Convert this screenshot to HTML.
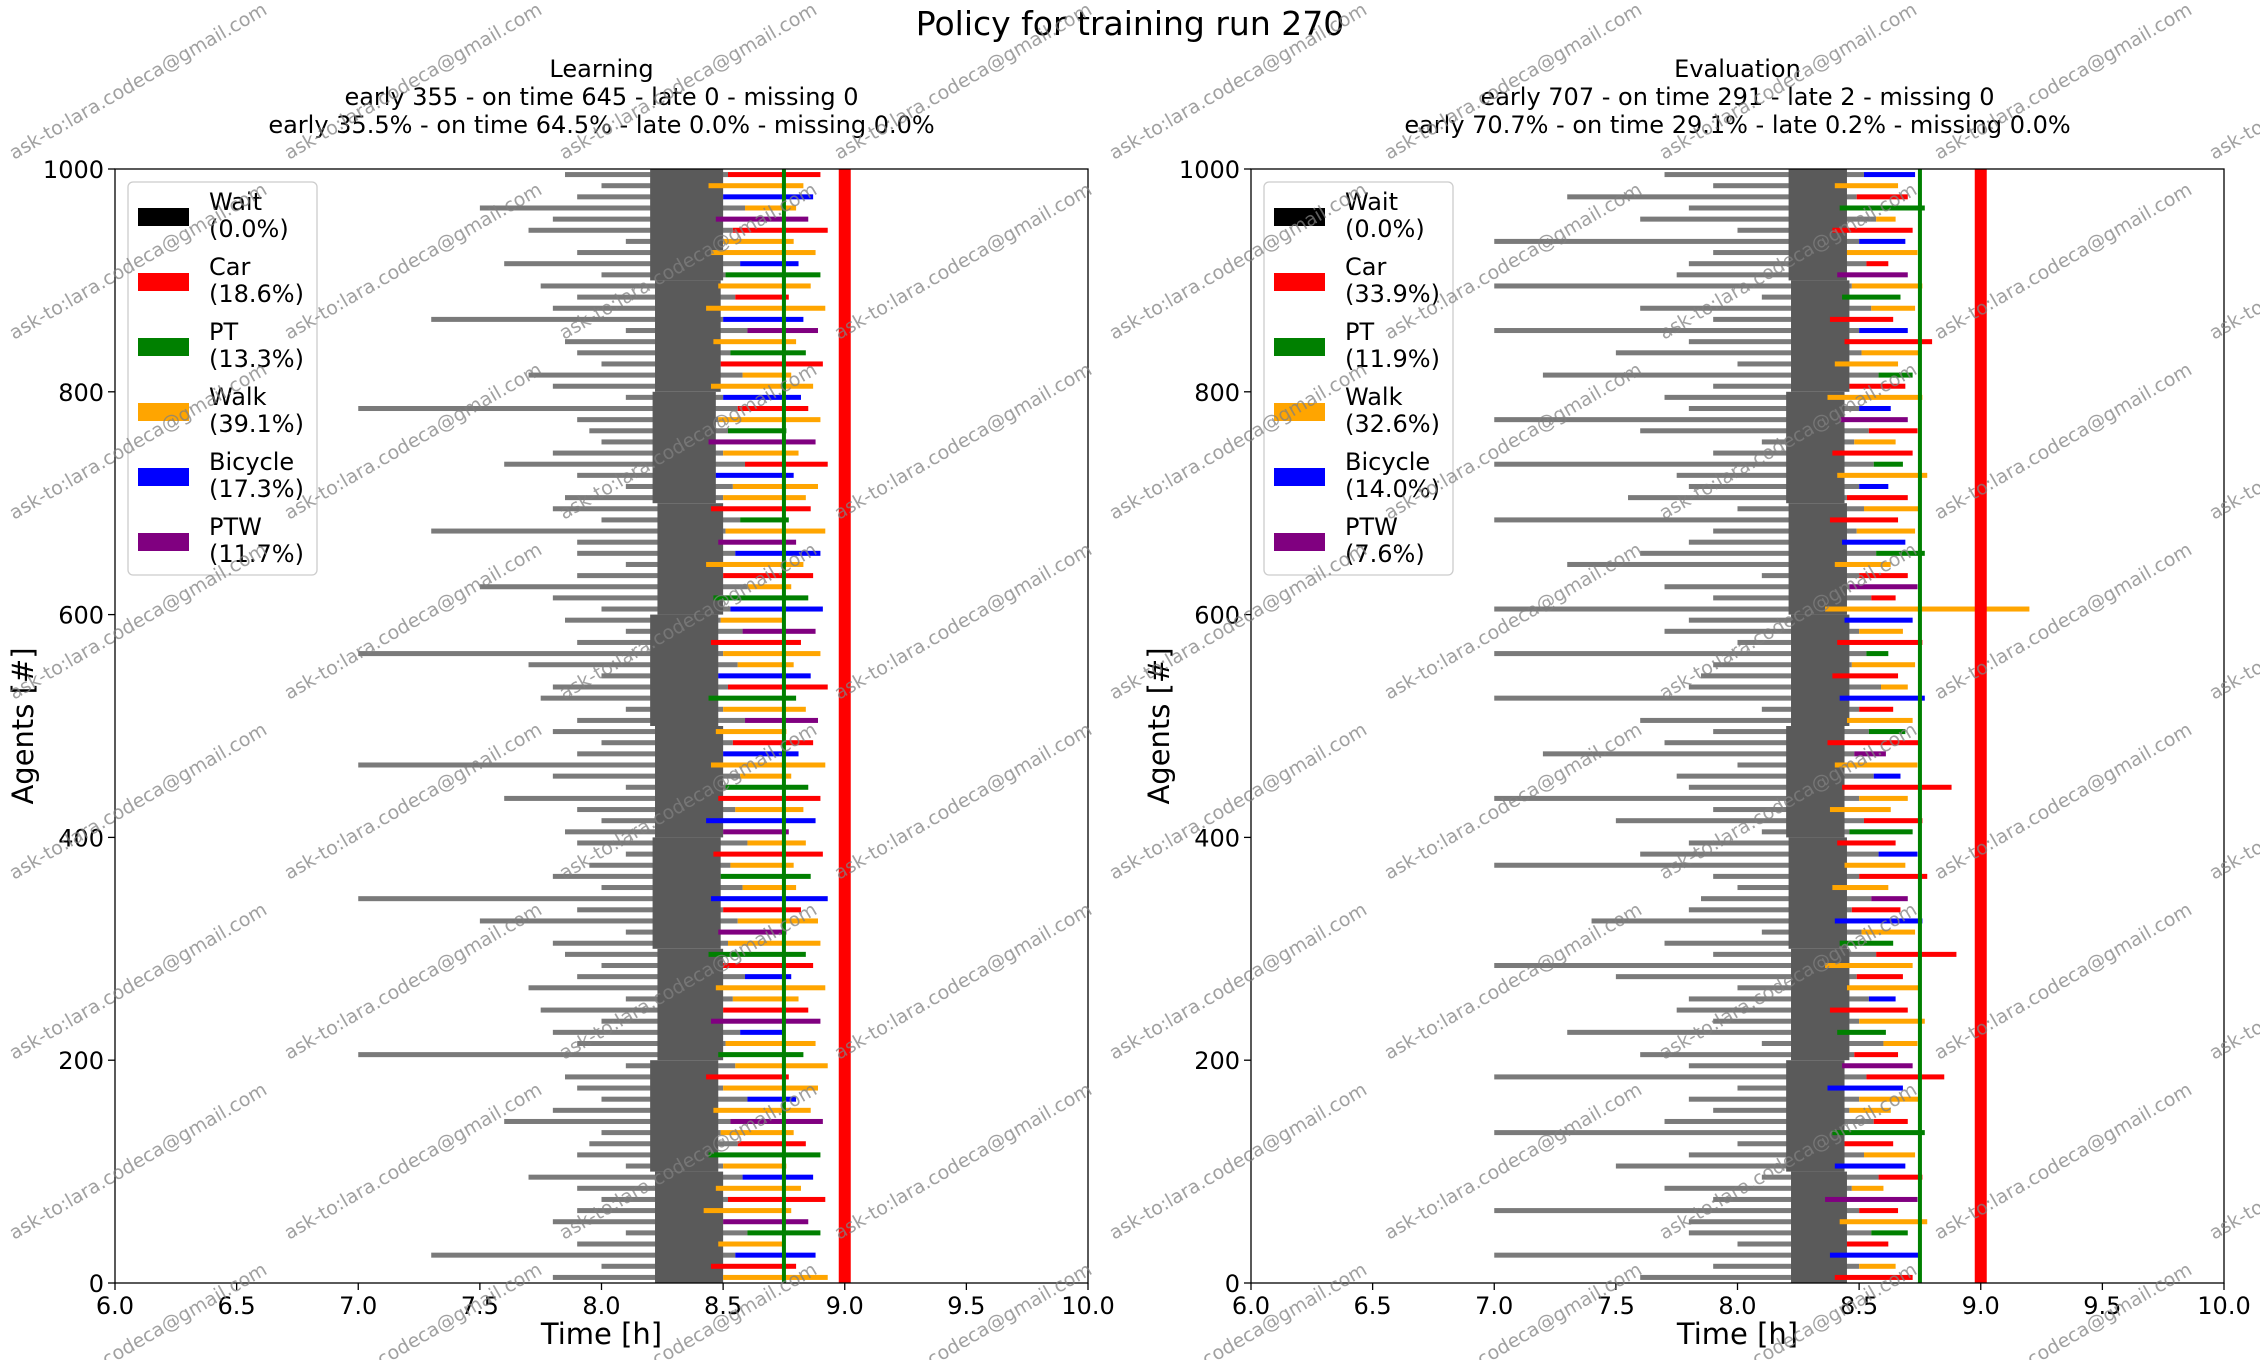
<!DOCTYPE html>
<html><head><meta charset="utf-8">
<style>
html,body{margin:0;padding:0;background:#fff;}
svg{display:block;font-family:"DejaVu Sans","Liberation Sans",sans-serif;}
</style></head>
<body>
<svg id="chart" width="2260" height="1360" viewBox="0 0 2260 1360" xmlns="http://www.w3.org/2000/svg">
<text x="1130" y="35" font-size="33" text-anchor="middle">Policy for training run 270</text>
<g id="panels"></g>
<g id="watermarks"></g>
</svg>
<script>
// ---- data ----
const modeNames = ["Wait","Car","PT","Walk","Bicycle","PTW"];
const modeColors = {Wait:"#000000",Car:"#ff0000",PT:"#008000",Walk:"#ffa500",Bicycle:"#0000ff",PTW:"#800080"};
const learnShares = ["0.0%","18.6%","13.3%","39.1%","17.3%","11.7%"];
const evalShares = ["0.0%","33.9%","11.9%","32.6%","14.0%","7.6%"];
const xTicks = [6.0,6.5,7.0,7.5,8.0,8.5,9.0,9.5,10.0];
const yTicks = [0,200,400,600,800,1000];
const learnStart = [7.8,8.0,7.3,7.9,8.1,7.8,7.9,8.0,7.9,7.7,8.1,7.9,7.95,8.0,7.6,7.8,8.0,7.9,7.85,8.1,7.0,7.9,7.8,8.0,7.75,8.1,7.7,7.9,8.0,7.85,7.8,8.1,7.5,7.9,7.0,8.0,7.8,7.95,8.1,7.9,7.85,8.0,7.9,7.6,8.1,7.8,7.0,7.9,8.0,7.8,7.9,8.1,7.75,7.8,8.0,7.7,7.0,7.9,8.1,7.85,8.0,7.8,7.5,7.9,8.1,7.9,7.9,7.3,8.0,7.8,7.85,8.1,7.9,7.6,7.8,8.0,7.95,7.9,7.0,8.1,7.8,7.7,8.0,7.9,7.85,8.1,7.3,7.8,7.9,7.75,8.0,7.6,7.9,8.1,7.7,7.8,7.5,7.9,8.0,7.85];
const learnModeStart = [8.5,8.45,8.55,8.48,8.6,8.5,8.42,8.52,8.47,8.58,8.5,8.44,8.56,8.49,8.53,8.46,8.6,8.5,8.43,8.55,8.48,8.51,8.57,8.45,8.5,8.54,8.47,8.59,8.5,8.44,8.52,8.48,8.56,8.5,8.45,8.58,8.49,8.53,8.46,8.6,8.5,8.43,8.55,8.48,8.51,8.57,8.45,8.5,8.54,8.47,8.59,8.5,8.44,8.52,8.48,8.56,8.5,8.45,8.58,8.49,8.53,8.46,8.6,8.5,8.43,8.55,8.48,8.51,8.57,8.45,8.5,8.54,8.47,8.59,8.5,8.44,8.52,8.48,8.56,8.5,8.45,8.58,8.49,8.53,8.46,8.6,8.5,8.43,8.55,8.48,8.51,8.57,8.45,8.5,8.54,8.47,8.59,8.5,8.44,8.52];
const learnEnd = [8.93,8.8,8.88,8.75,8.9,8.85,8.78,8.92,8.82,8.87,8.76,8.9,8.84,8.79,8.91,8.86,8.8,8.89,8.77,8.93,8.83,8.88,8.75,8.9,8.85,8.81,8.92,8.78,8.87,8.84,8.9,8.76,8.89,8.82,8.93,8.8,8.86,8.79,8.91,8.84,8.77,8.88,8.83,8.9,8.85,8.78,8.92,8.81,8.87,8.76,8.89,8.84,8.8,8.93,8.86,8.79,8.9,8.82,8.88,8.75,8.91,8.85,8.78,8.87,8.83,8.9,8.8,8.92,8.77,8.86,8.84,8.89,8.79,8.93,8.81,8.88,8.76,8.9,8.85,8.82,8.87,8.78,8.91,8.84,8.8,8.89,8.83,8.92,8.77,8.86,8.9,8.81,8.88,8.79,8.93,8.85,8.8,8.87,8.83,8.9];
const learnModes = "WCBWPMWCWBWPCWMWBWCWPWBMCWWBCPWMWCBWPWCWMBWCPWWBCWMWPCBWWCMWBPWCWBMWPCWWBCWMPWCBWWCPWMBWCWPBWWCMWB";
const evalStart = [7.6,7.9,7.0,8.0,7.8,7.8,7.0,7.9,7.7,8.1,7.5,7.8,8.0,7.0,7.7,7.9,7.8,8.0,7.0,7.8,7.6,8.1,7.3,7.9,7.75,7.8,8.0,7.5,7.0,7.9,7.7,8.1,7.4,7.8,7.85,8.0,7.9,7.0,7.6,7.8,8.1,7.5,7.9,7.0,7.8,7.75,8.0,7.2,7.7,7.9,7.6,8.1,7.0,7.8,7.85,7.9,7.0,8.0,7.7,7.8,7.0,7.9,7.7,8.1,7.3,7.6,7.8,7.9,7.0,8.0,7.55,7.8,7.75,7.0,7.9,8.1,7.6,7.0,7.8,7.7,7.9,7.2,8.0,7.5,7.8,7.0,7.9,7.6,8.1,7.0,7.75,7.8,7.9,7.0,8.0,7.6,7.8,7.3,7.9,7.7];
const evalModeStart = [8.4,8.5,8.38,8.45,8.55,8.42,8.5,8.36,8.47,8.58,8.4,8.52,8.44,8.39,8.56,8.46,8.5,8.37,8.53,8.43,8.48,8.6,8.41,8.5,8.38,8.54,8.45,8.49,8.36,8.57,8.42,8.51,8.4,8.47,8.55,8.39,8.5,8.44,8.58,8.41,8.46,8.52,8.38,8.5,8.43,8.56,8.4,8.48,8.37,8.54,8.45,8.5,8.42,8.59,8.39,8.47,8.53,8.41,8.5,8.44,8.36,8.55,8.46,8.5,8.4,8.57,8.43,8.49,8.38,8.52,8.45,8.5,8.41,8.56,8.39,8.48,8.54,8.42,8.5,8.37,8.46,8.58,8.4,8.51,8.44,8.5,8.38,8.55,8.43,8.47,8.41,8.53,8.45,8.5,8.39,8.57,8.42,8.49,8.4,8.52];
const evalEnd = [8.72,8.65,8.75,8.62,8.7,8.78,8.66,8.74,8.6,8.76,8.69,8.73,8.64,8.77,8.7,8.63,8.75,8.68,8.85,8.72,8.66,8.74,8.61,8.77,8.7,8.65,8.75,8.68,8.72,8.9,8.64,8.73,8.76,8.67,8.7,8.62,8.78,8.69,8.74,8.65,8.72,8.76,8.63,8.7,8.88,8.67,8.74,8.61,8.75,8.69,8.72,8.64,8.77,8.7,8.66,8.73,8.62,8.76,8.68,8.72,9.2,8.65,8.74,8.7,8.63,8.77,8.69,8.73,8.66,8.75,8.7,8.62,8.78,8.68,8.72,8.65,8.74,8.7,8.63,8.76,8.69,8.72,8.66,8.75,8.8,8.7,8.64,8.73,8.67,8.76,8.7,8.62,8.74,8.69,8.72,8.65,8.77,8.7,8.66,8.73];
const evalModes = "CWBCPWCMWCBWCPCWWBCMCWPWCBWCWCPWBCMWCWBCPCWWCBWMCPWCBWCWPCWBWCMCWPBWCWCBWPCWCMBWCPWWCBCWPWMCWBCWP";
const coreBuckets = [0,100,200,300,400,500,600,700,800,900,1000];
const learnCoreL = [8.22,8.2,8.23,8.21,8.22,8.2,8.23,8.21,8.22,8.2,8.22];
const learnCoreR = [8.5,8.48,8.5,8.49,8.5,8.48,8.5,8.47,8.49,8.5,8.5];
const evalCoreL = [8.22,8.2,8.22,8.21,8.2,8.22,8.21,8.2,8.22,8.21,8.22];
const evalCoreR = [8.45,8.44,8.46,8.45,8.44,8.46,8.45,8.44,8.46,8.45,8.45];
const letterToMode = {W:"Walk",C:"Car",B:"Bicycle",P:"PT",M:"PTW"};

const NS = "http://www.w3.org/2000/svg";
function mk(tag, attrs, parent){const e=document.createElementNS(NS,tag);for(const k in attrs)e.setAttribute(k,attrs[k]);parent.appendChild(e);return e;}

function drawPanel(opt){
  const g = mk("g",{},document.getElementById("panels"));
  
  
  const L=opt.left,R=opt.right,T=169,B=1283;
  const xs = v => L + (v-6)/4*(R-L);
  const ys = v => B - v/1000*(B-T);
  const cx=(L+R)/2;
  opt.titles.forEach((t,i)=>{
    const tx=mk("text",{x:cx,y:77+i*28,"font-size":24,"text-anchor":"middle"},g);
    
    
    tx.textContent=t;
  });
  const clipId="clip-"+opt.name;
  const cp=mk("clipPath",{id:clipId},g); mk("rect",{x:L,y:T,width:R-L,height:B-T},cp);
  const plot=mk("g",{"clip-path":"url(#"+clipId+")"},g);
  const n=opt.start.length, step=1000/n;
  const h=(B-T)/1000*step*0.45;
  for(let i=0;i<n;i++){
    const y=ys(i*step+step/2);
    const w=mk("rect",{x:xs(opt.start[i]),y:y-h/2,width:xs(opt.modeStart[i])-xs(opt.start[i]),height:h,fill:"#7a7a7a"},plot);
    
    
  }
  for(let k=0;k<coreBuckets.length-1;k++){
    const r=mk("rect",{x:xs(opt.coreL[k]),y:ys(coreBuckets[k+1]),width:xs(opt.coreR[k])-xs(opt.coreL[k]),height:ys(coreBuckets[k])-ys(coreBuckets[k+1]),fill:"#5a5a5a"},plot);
    
    
  }
  for(let i=0;i<n;i++){
    const y=ys(i*step+step/2);
    const m=letterToMode[opt.modes[i%opt.modes.length]];
    const r=mk("rect",{x:xs(opt.modeStart[i]),y:y-h/2,width:xs(opt.end[i])-xs(opt.modeStart[i]),height:h,fill:modeColors[m]},plot);
    
    
  }
  const gl=mk("line",{x1:xs(8.75),x2:xs(8.75),y1:T,y2:B,stroke:"#008000","stroke-width":4},g);
  
  
  const rl=mk("rect",{x:xs(9.0)-6,y:T,width:12,height:B-T,fill:"#ff0000"},g);
  
  
  const fr=mk("rect",{x:L,y:T,width:R-L,height:B-T,fill:"none",stroke:"#000","stroke-width":1.3},g);
  
  
  xTicks.forEach(v=>{
    mk("line",{x1:xs(v),x2:xs(v),y1:B,y2:B+7,stroke:"#000","stroke-width":1.3},g);
    const t=mk("text",{x:xs(v),y:B+31,"font-size":24,"text-anchor":"middle"},g);
    
    
    t.textContent=v.toFixed(1);
  });
  yTicks.forEach(v=>{
    mk("line",{x1:L-7,x2:L,y1:ys(v),y2:ys(v),stroke:"#000","stroke-width":1.3},g);
    const t=mk("text",{x:L-11,y:ys(v)+9,"font-size":24,"text-anchor":"end"},g);
    
    
    t.textContent=v;
  });
  const xt=mk("text",{x:cx,y:1344,"font-size":29,"text-anchor":"middle"},g);
  
  
  xt.textContent="Time [h]";
  const yt=mk("text",{x:0,y:0,"font-size":29,"text-anchor":"middle",transform:"translate("+(L-82)+","+((T+B)/2)+") rotate(-90)"},g);
  
  
  yt.textContent="Agents [#]";
  const lg=mk("g",{},g);
  
  
  mk("rect",{x:L+13,y:182,width:189,height:393,rx:5,fill:"#fff","fill-opacity":0.8,stroke:"#ccc","stroke-width":1.3},lg);
  modeNames.forEach((m,i)=>{
    const y0=200+i*65;
    const p=mk("rect",{x:L+23,y:y0+8,width:51,height:18,fill:modeColors[m]},lg);
    
    
    const t1=mk("text",{x:L+94,y:y0+10,"font-size":24},lg);
    
    
    t1.textContent=m;
    const t2=mk("text",{x:L+94,y:y0+37,"font-size":24},lg);
    
    
    t2.textContent="("+opt.shares[i]+")";
  });
}
drawPanel({name:"learning",left:115,right:1088,start:learnStart,modeStart:learnModeStart,end:learnEnd,modes:learnModes,coreL:learnCoreL,coreR:learnCoreR,shares:learnShares,
  titles:["Learning","early 355 - on time 645 - late 0 - missing 0","early 35.5% - on time 64.5% - late 0.0% - missing 0.0%"]});
drawPanel({name:"evaluation",left:1251,right:2224,start:evalStart,modeStart:evalModeStart,end:evalEnd,modes:evalModes,coreL:evalCoreL,coreR:evalCoreR,shares:evalShares,
  titles:["Evaluation","early 707 - on time 291 - late 2 - missing 0","early 70.7% - on time 29.1% - late 0.2% - missing 0.0%"]});
const wm=document.getElementById("watermarks");
for(let c=0;c<9;c++){
  for(let r=0;r<8;r++){
    const x=14+c*275, y=160+r*180;
    const t=mk("text",{x:x,y:y,"font-size":19,fill:"#808080","fill-opacity":0.75,transform:"rotate(-30 "+x+" "+y+")"},wm);
    
    
    t.textContent="ask-to:lara.codeca@gmail.com";
  }
}
</script>
</body></html>
